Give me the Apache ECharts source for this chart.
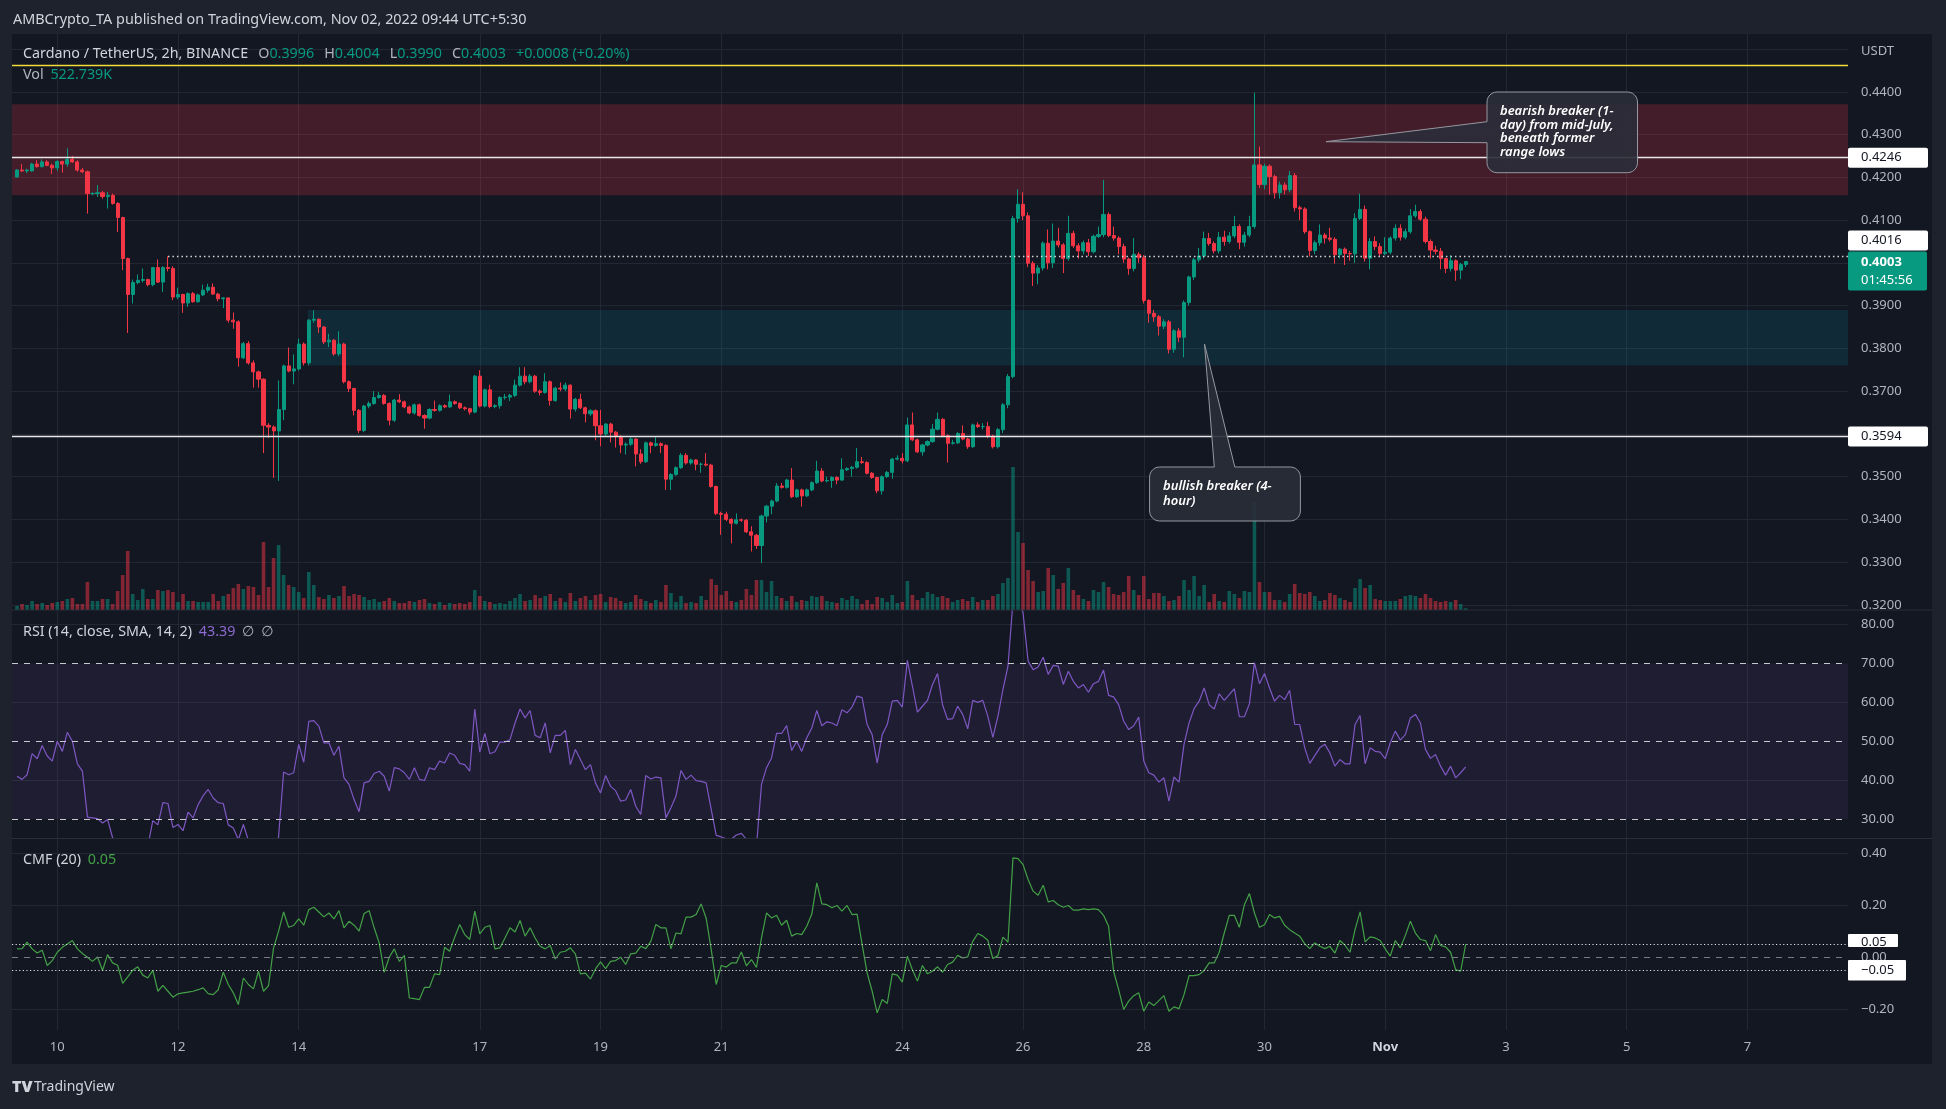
<!DOCTYPE html>
<html><head><meta charset="utf-8">
<script src="https://cdn.jsdelivr.net/npm/echarts@6.0.0/dist/echarts.min.js"></script>
<style>html,body{margin:0;padding:0;background:#1e222d;overflow:hidden}#c{width:1946px;height:1109px}</style>
</head><body><div id="c"></div>
<script>
// ---------- DATA (2h candles, ADA/USDT) ----------
const opens = [
.4201,.4217,.4215,.4215,.4231,.4225,.4236,.4228,.4222,.4237,
.4231,.4242,.4236,.4217,.4213,.4162,.4162,.4164,.4155,.4158,
.4139,.4106,.4010,.3926,.3954,.3959,.3961,.3949,.3989,.3955,
.3989,.3987,.3920,.3926,.3906,.3928,.3909,.3925,.3936,.3943,
.3927,.3916,.3918,.3866,.3862,.3778,.3811,.3766,.3745,.3728,
.3620,.3616,.3607,.3657,.3759,.3747,.3752,.3810,.3766,.3866,
.3868,.3850,.3815,.3819,.3787,.3810,.3722,.3706,.3655,.3608,
.3665,.3671,.3685,.3690,.3671,.3632,.3679,.3675,.3663,.3649,
.3668,.3643,.3637,.3657,.3655,.3666,.3663,.3675,.3671,.3661,
.3659,.3651,.3735,.3665,.3703,.3664,.3666,.3685,.3686,.3690,
.3714,.3735,.3722,.3735,.3700,.3697,.3722,.3678,.3707,.3705,
.3714,.3658,.3681,.3661,.3647,.3654,.3619,.3600,.3623,.3604,
.3594,.3574,.3576,.3588,.3553,.3535,.3579,.3573,.3577,.3573,
.3494,.3505,.3521,.3550,.3532,.3539,.3529,.3529,.3527,.3477,
.3414,.3412,.3400,.3391,.3399,.3398,.3371,.3363,.3339,.3408,
.3431,.3443,.3478,.3475,.3492,.3453,.3469,.3455,.3469,.3486,
.3513,.3490,.3491,.3498,.3492,.3516,.3519,.3522,.3535,.3533,
.3508,.3498,.3467,.3500,.3510,.3541,.3543,.3537,.3621,.3586,
.3558,.3574,.3582,.3611,.3634,.3596,.3578,.3579,.3601,.3588,
.3570,.3621,.3617,.3617,.3595,.3570,.3610,.3668,.3734,.4104,
.4137,.4110,.3999,.3976,.3988,.4046,.4000,.4051,.4042,.4010,
.4069,.4040,.4028,.4047,.4026,.4062,.4066,.4113,.4064,.4058,
.4038,.4009,.3987,.4020,.4012,.3912,.3882,.3874,.3852,.3862,
.3798,.3841,.3826,.3907,.3967,.4007,.4016,.4057,.4045,.4028,
.4060,.4050,.4063,.4085,.4048,.4065,.4085,.4229,.4183,.4226,
.4202,.4164,.4182,.4171,.4204,.4129,.4126,.4073,.4029,.4047,
.4065,.4058,.4055,.4019,.4032,.4022,.4021,.4104,.4125,.4011,
.4050,.4038,.4022,.4025,.4058,.4081,.4060,.4073,.4110,.4120,
.4102,.4050,.4030,.4027,.4010,.3987,.4005,.3983,.3996];
const closes = [
.4217,.4215,.4217,.4231,.4225,.4236,.4228,.4222,.4237,.4231,
.4242,.4236,.4217,.4213,.4162,.4162,.4164,.4155,.4158,.4139,
.4106,.4010,.3926,.3954,.3959,.3961,.3949,.3989,.3955,.3989,
.3987,.3920,.3926,.3906,.3928,.3909,.3925,.3936,.3943,.3927,
.3916,.3918,.3866,.3862,.3778,.3811,.3766,.3745,.3728,.3620,
.3616,.3607,.3657,.3759,.3747,.3752,.3810,.3766,.3866,.3868,
.3850,.3815,.3819,.3787,.3810,.3722,.3706,.3655,.3608,.3665,
.3671,.3685,.3690,.3671,.3632,.3679,.3675,.3663,.3649,.3668,
.3643,.3637,.3657,.3655,.3666,.3663,.3675,.3671,.3661,.3659,
.3651,.3735,.3665,.3703,.3664,.3666,.3685,.3686,.3690,.3714,
.3735,.3722,.3735,.3700,.3697,.3722,.3678,.3707,.3705,.3714,
.3658,.3681,.3661,.3647,.3654,.3619,.3600,.3623,.3604,.3594,
.3574,.3576,.3588,.3553,.3535,.3579,.3573,.3577,.3573,.3494,
.3505,.3521,.3550,.3532,.3539,.3529,.3529,.3527,.3477,.3414,
.3412,.3400,.3391,.3399,.3398,.3371,.3363,.3339,.3408,.3431,
.3443,.3478,.3475,.3492,.3453,.3469,.3455,.3469,.3486,.3513,
.3490,.3491,.3498,.3492,.3516,.3519,.3522,.3535,.3533,.3508,
.3498,.3467,.3500,.3510,.3541,.3543,.3537,.3621,.3586,.3558,
.3574,.3582,.3611,.3634,.3596,.3578,.3579,.3601,.3588,.3570,
.3621,.3617,.3617,.3595,.3570,.3610,.3668,.3734,.4104,.4137,
.4110,.3999,.3976,.3988,.4046,.4000,.4051,.4042,.4010,.4069,
.4040,.4028,.4047,.4026,.4062,.4066,.4113,.4064,.4058,.4038,
.4009,.3987,.4020,.4012,.3912,.3882,.3874,.3852,.3862,.3798,
.3841,.3826,.3907,.3967,.4007,.4016,.4057,.4045,.4028,.4060,
.4050,.4063,.4085,.4048,.4065,.4085,.4229,.4183,.4226,.4202,
.4164,.4182,.4171,.4204,.4129,.4126,.4073,.4029,.4047,.4065,
.4058,.4055,.4019,.4032,.4022,.4021,.4104,.4125,.4011,.4050,
.4038,.4022,.4025,.4058,.4081,.4060,.4073,.4110,.4120,.4102,
.4050,.4030,.4027,.4010,.3987,.4005,.3983,.3996,.4003];
const highs = [
.4219,.4231,.4220,.4234,.4240,.4242,.4240,.4232,.4240,.4239,
.4268,.4250,.4240,.4222,.4216,.4165,.4182,.4168,.4166,.4162,
.4142,.4108,.4012,.3961,.3973,.3987,.3963,.3990,.4008,.3992,
.4015,.3992,.3942,.3928,.3931,.3932,.3928,.3949,.3951,.3952,
.3930,.3920,.3919,.3884,.3866,.3815,.3817,.3772,.3748,.3730,
.3625,.3620,.3725,.3762,.3802,.3786,.3823,.3814,.3868,.3889,
.3870,.3852,.3834,.3822,.3840,.3813,.3725,.3708,.3658,.3668,
.3676,.3700,.3698,.3693,.3674,.3682,.3693,.3678,.3666,.3671,
.3671,.3646,.3660,.3678,.3669,.3669,.3692,.3678,.3674,.3664,
.3661,.3738,.3749,.3706,.3715,.3669,.3688,.3693,.3694,.3727,
.3756,.3756,.3740,.3738,.3704,.3742,.3725,.3710,.3720,.3720,
.3716,.3684,.3694,.3664,.3658,.3657,.3656,.3625,.3626,.3607,
.3597,.3580,.3592,.3590,.3564,.3582,.3582,.3592,.3580,.3576,
.3508,.3524,.3555,.3555,.3542,.3541,.3533,.3555,.3530,.3479,
.3418,.3418,.3403,.3414,.3402,.3401,.3384,.3366,.3411,.3434,
.3446,.3485,.3485,.3495,.3520,.3472,.3472,.3472,.3489,.3537,
.3520,.3500,.3501,.3501,.3543,.3522,.3525,.3567,.3546,.3536,
.3511,.3500,.3503,.3513,.3544,.3550,.3555,.3638,.3650,.3589,
.3577,.3585,.3623,.3650,.3637,.3599,.3586,.3604,.3620,.3591,
.3624,.3627,.3625,.3628,.3598,.3614,.3672,.3740,.4110,.4172,
.4165,.4118,.4004,.3995,.4050,.4078,.4092,.4082,.4046,.4110,
.4075,.4046,.4052,.4056,.4066,.4085,.4194,.4118,.4085,.4062,
.4045,.4012,.4058,.4025,.4018,.3915,.3890,.3878,.3868,.3866,
.3845,.3848,.3912,.3970,.4012,.4035,.4073,.4070,.4050,.4072,
.4075,.4072,.4110,.4090,.4072,.4110,.4398,.4272,.4232,.4230,
.4206,.4190,.4188,.4215,.4210,.4134,.4130,.4076,.4052,.4090,
.4070,.4082,.4060,.4035,.4036,.4028,.4116,.4162,.4134,.4058,
.4062,.4046,.4060,.4062,.4090,.4090,.4080,.4126,.4136,.4125,
.4108,.4055,.4040,.4035,.4012,.4018,.4008,.4000,.4004];
const lows = [
.4199,.4213,.4210,.4213,.4223,.4223,.4226,.4208,.4215,.4211,
.4225,.4234,.4213,.4210,.4115,.4158,.4154,.4150,.4127,.4136,
.4072,.3983,.3836,.3905,.3950,.3954,.3945,.3945,.3953,.3932,
.3980,.3913,.3915,.3883,.3897,.3907,.3907,.3922,.3930,.3925,
.3910,.3894,.3860,.3846,.3757,.3775,.3762,.3708,.3708,.3555,
.3590,.3497,.3490,.3632,.3744,.3716,.3748,.3760,.3760,.3860,
.3836,.3810,.3803,.3783,.3782,.3718,.3698,.3643,.3602,.3604,
.3660,.3668,.3682,.3668,.3620,.3628,.3672,.3660,.3646,.3645,
.3640,.3612,.3634,.3652,.3652,.3660,.3661,.3668,.3658,.3655,
.3645,.3648,.3662,.3662,.3660,.3660,.3659,.3680,.3677,.3686,
.3711,.3716,.3718,.3696,.3690,.3694,.3666,.3675,.3700,.3700,
.3636,.3652,.3658,.3627,.3642,.3585,.3571,.3596,.3580,.3568,
.3555,.3552,.3572,.3524,.3530,.3532,.3555,.3570,.3555,.3469,
.3469,.3502,.3518,.3528,.3528,.3515,.3509,.3524,.3474,.3410,
.3364,.3396,.3344,.3388,.3394,.3368,.3325,.3331,.3298,.3393,
.3412,.3440,.3472,.3472,.3450,.3450,.3430,.3452,.3466,.3483,
.3487,.3487,.3474,.3482,.3490,.3513,.3500,.3519,.3530,.3505,
.3495,.3461,.3458,.3497,.3495,.3538,.3531,.3534,.3583,.3555,
.3549,.3571,.3579,.3608,.3593,.3533,.3575,.3576,.3585,.3565,
.3567,.3614,.3610,.3590,.3566,.3566,.3602,.3660,.3730,.4094,
.4100,.3990,.3946,.3950,.3982,.3985,.3988,.4036,.3976,.4005,
.4035,.4010,.4020,.4016,.4022,.4058,.4060,.4060,.4052,.4020,
.4000,.3972,.3980,.4000,.3905,.3860,.3862,.3830,.3845,.3788,
.3790,.3815,.3779,.3900,.3960,.4001,.4010,.4040,.4022,.4022,
.4040,.4045,.4058,.4032,.4038,.4060,.4080,.4175,.4172,.4160,
.4150,.4150,.4160,.4165,.4120,.4100,.4068,.4015,.4020,.4040,
.4045,.4050,.3998,.4010,.3995,.4005,.4000,.4100,.4003,.3985,
.4030,.4015,.4018,.4020,.4052,.4052,.4055,.4068,.4105,.4098,
.4045,.4010,.4020,.3985,.3976,.3980,.3958,.3962,.3990];
// volume, millions of ADA
const volumes = [
1.2,1.8,1.5,2.7,1.8,2.1,1.5,2.1,2.4,2.7,
3.3,3.6,1.8,1.8,8.4,2.7,2.7,3.3,3.3,1.8,
5.7,10.5,17.7,4.8,3.0,6.3,3.3,3.3,6.0,5.7,
6.0,5.4,2.4,4.8,2.7,2.7,2.4,2.4,2.4,4.8,
2.7,4.2,4.8,6.6,7.8,6.3,7.2,6.9,4.5,20.4,
6.9,15.6,19.5,10.5,7.5,6.9,5.4,3.6,11.4,7.5,
3.9,3.3,4.5,3.6,4.2,7.2,4.2,4.8,4.5,3.9,
3.0,3.3,2.4,2.7,3.6,2.7,2.1,2.1,2.7,2.4,
3.0,3.3,2.1,1.8,2.4,1.5,2.1,1.8,2.1,1.8,
2.4,6.0,4.2,2.7,2.4,1.8,2.1,1.8,2.7,3.6,
4.8,2.7,3.0,4.5,3.6,4.2,4.8,2.7,3.6,2.4,
5.1,2.7,3.6,4.2,3.0,4.5,4.8,2.4,3.9,3.6,
2.7,2.1,2.4,4.5,3.3,2.7,2.1,3.0,2.4,7.5,
5.1,2.4,4.2,2.1,2.4,2.1,4.2,3.0,9.3,7.5,
4.5,5.7,2.7,2.4,3.0,6.3,4.5,9.0,9.0,5.4,
8.7,4.2,3.6,2.7,4.2,2.4,3.0,2.7,4.2,3.9,
4.2,2.7,2.4,2.1,3.6,3.0,4.2,3.3,1.8,3.0,
1.8,3.9,3.6,2.4,4.5,2.1,2.4,8.7,4.5,3.0,
3.6,5.4,4.8,3.9,4.2,3.6,2.4,3.0,3.3,2.7,
3.9,2.4,3.0,3.0,4.2,4.8,8.1,9.6,42.9,23.4,
20.1,12.0,8.7,5.4,5.7,12.6,10.5,6.3,8.1,12.6,
6.0,4.5,3.3,2.7,6.0,5.4,8.4,6.9,4.8,4.5,
5.4,10.2,6.0,4.5,10.2,3.3,5.1,5.1,4.2,2.7,
3.0,4.2,9.0,6.0,10.2,4.2,7.5,2.4,4.8,2.7,
2.4,5.7,4.8,3.6,5.7,5.4,32.4,8.4,5.4,5.4,
3.0,3.0,2.4,4.8,7.8,5.1,4.8,5.4,4.2,2.7,
3.0,5.1,4.5,3.6,3.0,2.4,6.6,9.3,6.6,7.5,
3.3,3.0,2.7,2.7,2.7,3.3,4.2,4.5,4.2,3.6,
4.8,3.6,2.7,2.4,2.7,2.4,3.0,1.8,0.52];
const rsi = [
41.0,40.2,41.4,46.8,45.5,48.9,46.2,44.9,50.0,47.4,
52.3,50.0,44.2,42.3,30.5,30.3,30.1,29.0,29.9,25.2,
22,18,15,20,21,20,23,29.6,28.5,34.2,
34.0,27.8,28.6,27.0,31.8,30.3,33.7,36.0,37.6,35.4,
34.2,34.0,28.5,27.7,24.7,28.6,24.5,22,20,14,
13,12,25.6,42.1,41.4,41.9,49.2,44.6,55.1,55.3,
53.9,49.6,49.6,46.4,48.7,40.6,38.9,35.0,31.9,39.3,
39.7,41.7,42.3,41.0,37.2,43.2,42.9,41.9,40.2,43.2,
40.2,39.9,43.2,42.7,44.9,44.4,47.0,46.4,44.3,44.0,
42.3,58.3,47.2,52.0,46.8,47.3,49.8,49.8,50.4,54.7,
58.3,56.0,57.9,51.5,50.9,54.7,47.0,51.5,51.5,52.8,
44.0,47.9,45.3,42.7,44.0,39.3,36.7,41.2,38.4,37.3,
34.6,34.9,37.6,33.3,31.2,41.2,40.3,40.8,40.6,30.3,
32.9,35.9,42.5,40.2,41.3,39.9,39.7,39.3,32.5,25.8,
25.4,24.9,24.8,25.9,26.3,24.8,20,23,38.9,43.2,
45.7,52.0,52.0,54.0,47.6,50.0,47.4,50.9,53.4,57.9,
54.0,55.0,54.7,54.0,58.1,57.3,58.8,61.6,61.2,54.3,
51.7,44.4,51.7,54.3,60.3,60.5,58.8,70.8,64.2,57.5,
59.0,60.5,64.6,67.4,59.3,55.6,55.8,59.0,56.9,53.2,
60.5,60.0,60.5,56.4,51.0,56.4,63.3,69.3,86,87,
83,70.6,68.4,69.1,71.6,67.2,69.5,69.3,64.6,68.0,
65.4,63.7,64.6,62.6,64.8,65.4,68.3,61.8,61.4,59.4,
55.2,53.0,54.0,56.2,44.9,41.9,41.3,39.5,40.6,34.6,
40.8,39.5,49.2,54.7,58.4,60.3,63.7,59.4,58.3,62.2,
60.5,62.0,63.5,56.3,56.3,59.6,70.2,64.8,67.4,63.7,
60.3,61.8,60.7,63.1,54.3,54.3,48.3,44.3,46.3,48.3,
49.2,47.0,43.6,45.3,44.2,44.2,54.3,56.6,44.2,48.3,
47.4,47.2,45.5,49.6,52.6,50.3,51.7,56.0,56.9,54.7,
47.9,45.6,46.6,43.6,41.3,43.6,40.6,41.9,43.39];
const cmf = [
.032,.033,.058,.032,.016,.027,-.032,-.013,.019,.038,
.051,.064,.032,.014,.000,-.016,.001,-.051,.010,-.022,
-.031,-.101,-.076,-.050,-.037,-.069,-.080,-.051,-.131,-.108,
-.131,-.154,-.141,-.137,-.134,-.131,-.125,-.118,-.140,-.144,
-.125,-.058,-.105,-.137,-.182,-.080,-.105,-.122,-.054,-.131,
-.109,.036,.100,.174,.115,.122,.147,.123,.183,.192,
.174,.155,.170,.147,.179,.113,.138,.123,.100,.168,
.179,.113,.055,-.058,.000,.032,-.016,.007,-.157,-.159,
-.163,-.116,-.116,-.064,-.067,.038,.023,.077,.126,.087,
.068,.177,.090,.115,.122,.032,.036,.074,.113,.097,
.141,.081,.113,.074,.042,.032,.045,-.007,.019,.023,
.036,.013,-.064,-.061,-.084,-.045,-.018,-.044,-.016,-.013,
.000,-.028,.013,.016,.042,.033,.061,.126,.113,.113,
.032,.093,.090,.154,.154,.164,.205,.150,.030,-.105,
-.032,-.038,-.022,-.022,.020,-.033,-.009,-.039,.074,.170,
.151,.161,.123,.142,.081,.091,.087,.119,.166,.286,
.205,.202,.190,.199,.177,.199,.164,.166,.049,-.060,
-.131,-.214,-.163,-.178,-.064,-.069,-.096,.004,-.048,-.092,
-.032,-.064,-.054,-.037,-.058,-.028,-.019,.007,-.003,.001,
.061,.091,.081,.065,-.005,.006,.077,.058,.382,.379,
.356,.299,.254,.238,.277,.213,.218,.202,.192,.199,
.181,.181,.186,.183,.186,.183,.161,.119,-.054,-.125,
-.201,-.169,-.148,-.137,-.208,-.172,-.186,-.167,-.148,-.208,
-.191,-.198,-.144,-.071,-.071,-.067,-.051,-.022,-.022,.019,
.093,.161,.161,.115,.202,.245,.170,.115,.125,.164,
.151,.157,.123,.106,.093,.081,.051,.033,.055,.042,
.033,.042,.016,.064,.046,.019,.106,.174,.059,.078,
.074,.064,.032,.004,.064,.036,.084,.138,.093,.068,
.064,.025,.087,.045,.040,.019,-.048,-.054,.050];
// time-axis ticks (bar index of first bar of the day) and their labels
const dayTickIdx  = [8,32,56,92,116,140,176,200,224,248,272,296,320,344];
const dayTickText = ['10','12','14','17','19','21','24','26','28','30','Nov','3','5','7'];
// price grid levels and drawn levels
const priceTicks = [0.32,0.33,0.34,0.35,0.36,0.37,0.38,0.39,0.40,0.41,0.42,0.43,0.44,0.45];
const bearZone = [0.4371, 0.4158];
const bullZone = [0.3890, 0.3760];
const bullZoneStart = 57.8;
const levelYellow = 0.4463, levelHigh = 0.4246, levelLow = 0.3594, levelRay = 0.4016, rayStart = 30;
const lastPrice = 0.4003, lastTimer = '01:45:56';
const rsiLevels = [30, 50, 70], rsiGrid = [40, 60, 80];
const cmfGrid = [0.4, 0.2, -0.2], cmfBand = [0.05, -0.05];

// ---------- CHART ----------
const FONT = "'Noto Sans','DejaVu Sans',sans-serif";
const UP = '#089981', DOWN = '#f23645', GRIDC = '#232733', AX = '#b2b5be';
const chart = echarts.init(document.getElementById('c'), null, {width:1946, height:1109});
const candleData = closes.map((c,i)=>[i, opens[i], c, lows[i], highs[i]]);
const volData = volumes.map((v,i)=>({value:[i,v], itemStyle:{color: closes[i]>=opens[i] ? 'rgba(8,153,129,0.5)' : 'rgba(242,54,69,0.5)'}}));
const rsiData = rsi.map((v,i)=>[i,v]);
const cmfData = cmf.map((v,i)=>[i,v]);
const vGrid = dayTickIdx.map(v=>({xAxis:v}));
const X0 = {type:'value', min:-1, max:364, interval:1, show:false};
const gl = (extra)=>Object.assign({silent:true, precision:4, symbol:['none','none'], label:{show:false}, animation:false,
  lineStyle:{color:GRIDC, width:1, type:'solid'}}, extra);

const option = {
  backgroundColor:'#131722',
  animation:false,
  grid:[
    {left:12, top:34, width:1836, height:575.2},
    {left:12, top:34, width:1836, height:576},
    {left:12, top:610, width:1836, height:228.5},
    {left:12, top:838.5, width:1836, height:191.5}
  ],
  xAxis:[
    Object.assign({}, X0, {gridIndex:0}),
    Object.assign({}, X0, {gridIndex:1}),
    Object.assign({}, X0, {gridIndex:2}),
    {type:'value', gridIndex:3, min:-1, max:364, interval:1,
     axisLine:{show:false}, axisTick:{show:false}, splitLine:{show:false},
     axisLabel:{color:AX, fontSize:13, fontFamily:FONT, margin:11,
       rich:{b:{color:'#d1d4dc', fontWeight:'bold', fontSize:13, fontFamily:FONT}},
       formatter:v=>{const r=Math.round(v); if(Math.abs(v-r)>1e-6) return ''; const k=dayTickIdx.indexOf(r); if(k<0) return ''; return dayTickText[k]==='Nov' ? '{b|Nov}' : dayTickText[k];}}}
  ],
  yAxis:[
    {type:'value', gridIndex:0, position:'right', min:0.319, max:0.45352, interval:0.001,
     axisLine:{show:false}, axisTick:{show:false}, splitLine:{show:false},
     axisLabel:{color:AX, fontSize:13, fontFamily:FONT, margin:13,
       formatter:v=>{const k=Math.round(v*100); return (Math.abs(v*100-k)<1e-6 && k>=32 && k<=44) ? (k/100).toFixed(4) : '';}}},
    {type:'value', gridIndex:1, min:0, max:172.8, show:false},
    {type:'value', gridIndex:2, position:'right', min:25, max:83.74, interval:5,
     axisLine:{show:false}, axisTick:{show:false}, splitLine:{show:false},
     axisLabel:{color:AX, fontSize:13, fontFamily:FONT, margin:13,
       formatter:v=>{const k=Math.round(v/10); return (Math.abs(v/10-k)<1e-6 && k>=3 && k<=8) ? (k*10).toFixed(2) : '';}}},
    {type:'value', gridIndex:3, position:'right', min:-0.28, max:0.4565, interval:0.04,
     axisLine:{show:false}, axisTick:{show:false}, splitLine:{show:false},
     axisLabel:{color:AX, fontSize:13, fontFamily:FONT, margin:13,
       formatter:v=>{const k=Math.round(v*5); if(Math.abs(v*5-k)>1e-6 || k<-1 || k>2) return ''; const val=k/5; if(k===0) return '0.00'; return val<0 ? '\u2212'+Math.abs(val).toFixed(2) : val.toFixed(2);}}}
  ],
  series:[
    {type:'line', xAxisIndex:0, yAxisIndex:0, data:[], silent:true,
     markLine: gl({z:0, data:[...priceTicks.map(v=>({yAxis:v})), ...vGrid]}),
     markArea:{silent:true, z:1, data:[
       [{xAxis:-1, yAxis:bearZone[0], itemStyle:{color:'rgba(242,54,69,0.22)'}}, {xAxis:364, yAxis:bearZone[1]}],
       [{xAxis:bullZoneStart, yAxis:bullZone[0], itemStyle:{color:'rgba(0,188,212,0.12)'}}, {xAxis:364, yAxis:bullZone[1]}]
     ]}},
    {type:'bar', xAxisIndex:1, yAxisIndex:1, barWidth:3.6, data:volData, silent:true},
    {type:'candlestick', xAxisIndex:0, yAxisIndex:0, barWidth:3.6, encode:{x:0, y:[1,2,3,4]}, data:candleData, silent:true,
     itemStyle:{color:UP, color0:DOWN, borderColor:UP, borderColor0:DOWN, borderWidth:1},
     markLine:{silent:true, precision:4, symbol:['none','none'], label:{show:false}, animation:false, data:[
       {yAxis:levelYellow, lineStyle:{color:'#f2dc3a', width:1.3, type:'solid'}},
       {yAxis:levelHigh, lineStyle:{color:'#e8e8e8', width:1.3, type:'solid'}},
       {yAxis:levelLow, lineStyle:{color:'#e8e8e8', width:1.3, type:'solid'}},
       [{coord:[rayStart, levelRay], lineStyle:{color:'#d8d8d8', width:1.3, type:[1.5,3]}}, {coord:[364, levelRay]}]
     ]}},
    {type:'line', xAxisIndex:2, yAxisIndex:2, data:[], silent:true,
     markLine: gl({z:0, data:[...rsiGrid.map(v=>({yAxis:v})), ...vGrid]}),
     markArea:{silent:true, z:1, data:[[{xAxis:-1, yAxis:rsiLevels[0], itemStyle:{color:'rgba(126,87,194,0.10)'}}, {xAxis:364, yAxis:rsiLevels[2]}]]}},
    {type:'line', xAxisIndex:2, yAxisIndex:2, data:rsiData, symbol:'none', silent:true,
     lineStyle:{color:'#7e57c2', width:1.2},
     markLine:{silent:true, precision:4, symbol:['none','none'], label:{show:false}, animation:false,
       lineStyle:{color:'#c8c9cc', width:1, type:[6,6]}, data:rsiLevels.map(v=>({yAxis:v}))}},
    {type:'line', xAxisIndex:3, yAxisIndex:3, data:[], silent:true,
     markLine: gl({z:0, data:[...cmfGrid.map(v=>({yAxis:v})), ...vGrid]})},
    {type:'line', xAxisIndex:3, yAxisIndex:3, data:cmfData, symbol:'none', silent:true, clip:false,
     lineStyle:{color:'#43a047', width:1.2},
     markLine:{silent:true, precision:4, symbol:['none','none'], label:{show:false}, animation:false, data:[
       {yAxis:0, lineStyle:{color:'#787b86', width:1, type:[6,6]}},
       {yAxis:cmfBand[0], lineStyle:{color:'#e0e0e0', width:1, type:[1.2,2.4]}},
       {yAxis:cmfBand[1], lineStyle:{color:'#e0e0e0', width:1, type:[1.2,2.4]}}
     ]}}
  ]
};
chart.setOption(option);

// ---------- decorations (text, frame, price tags, callouts) ----------
const py = v => chart.convertToPixel({yAxisIndex:0}, v);
const cy = v => chart.convertToPixel({yAxisIndex:3}, v);
const FR = '#1e222d';
const g = [];
const rect = (x,y,w,h,fill,z,r)=>g.push({type:'rect', z:z||50, shape:{x,y,width:w,height:h,r:r||0}, style:{fill}, silent:true});
const txt = (x,y,text,opt)=>g.push({type:'text', z:(opt&&opt.z)||60, x, y, silent:true,
  style:Object.assign({text, fill:'#d1d4dc', fontSize:13, fontFamily:FONT, verticalAlign:'middle', align:'left'}, opt||{})});
// frame
rect(0,0,1946,34,FR,40); rect(0,1064,1946,45,FR,40); rect(0,0,12,1109,FR,40); rect(1932,0,14,1109,FR,40);
g.push({type:'line', z:45, silent:true, shape:{x1:12,y1:610,x2:1932,y2:610}, style:{stroke:'#2a2e39', lineWidth:1}});
g.push({type:'line', z:45, silent:true, shape:{x1:12,y1:838.5,x2:1932,y2:838.5}, style:{stroke:'#2a2e39', lineWidth:1}});
// header
txt(13, 20, 'AMBCrypto_TA published on TradingView.com, Nov 02, 2022 09:44 UTC+5:30', {fontSize:14.4, fill:'#d1d4dc'});
const FS = 14.3;
const R = {t:{fill:'#d1d4dc', fontSize:FS, fontFamily:FONT}, l:{fill:'#b2b5be', fontSize:FS, fontFamily:FONT}, v:{fill:UP, fontSize:FS, fontFamily:FONT},
           p:{fill:'#8e6bd1', fontSize:FS, fontFamily:FONT}, gr:{fill:'#43a047', fontSize:FS, fontFamily:FONT}};
txt(23, 54, '{t|Cardano / TetherUS, 2h, BINANCE}   {l|O}{v|0.3996}   {l|H}{v|0.4004}   {l|L}{v|0.3990}   {l|C}{v|0.4003}   {v|+0.0008 (+0.20%)}', {rich:R});
txt(23, 75, '{l|Vol}  {v|522.739K}', {rich:R});
txt(23, 632, '{t|RSI (14, close, SMA, 14, 2)}  {p|43.39}  {l|\u2205}  {l|\u2205}', {rich:R});
txt(23, 860, '{t|CMF (20)}  {gr|0.05}', {rich:R});
txt(1861, 51, 'USDT', {fill:AX, fontSize:13});
// price tags
const tag = (y,h,w,text,bg,fg,bold)=>{ rect(1848,y,w,h,bg,70,2); txt(1861, y+h/2, text, {fill:fg, fontWeight:bold?'bold':'normal', z:71}); };
const yH = py(levelHigh), yL = py(levelLow), yP = py(lastPrice);
tag(yH-10, 20, 80, levelHigh.toFixed(4), '#ffffff', '#131722');
tag(yL-10, 20, 80, levelLow.toFixed(4), '#ffffff', '#131722');
rect(1848, yP-10, 79, 39, UP, 70, 2);
txt(1861, yP+0.5, lastPrice.toFixed(4), {fill:'#ffffff', fontWeight:'bold', z:71});
txt(1861, yP+18.5, lastTimer, {fill:'#ffffff', z:71});
tag(yP-31, 20, 80, levelRay.toFixed(4), '#ffffff', '#131722');
const c05 = cy(cmfBand[0]), cm05 = cy(cmfBand[1]);
rect(1848, c05-10.3, 50, 13, '#ffffff', 70, 1); txt(1861, c05-2, '0.05', {fill:'#131722', z:71});
rect(1848, cm05-10.3, 58, 20.7, '#ffffff', 70, 1); txt(1861, cm05, '\u22120.05', {fill:'#131722', z:71});
// callouts (rounded box with pointer, as polygon)
function arc(cx, cyy, r, a0, a1, out){ for(let k=0;k<=6;k++){ const a=(a0+(a1-a0)*k/6)*Math.PI/180; out.push([cx+r*Math.cos(a), cyy+r*Math.sin(a)]); } }
function callout(L,T,Rr,B,r,topPtr,leftPtr){
  const p=[]; arc(L+r,T+r,r,180,270,p);
  if(topPtr) p.push(...topPtr);
  arc(Rr-r,T+r,r,270,360,p); arc(Rr-r,B-r,r,0,90,p); arc(L+r,B-r,r,90,180,p);
  if(leftPtr) p.push(...leftPtr);
  return p;
}
const CS = {fill:'rgba(42,46,57,0.9)', stroke:'#9598a1', lineWidth:1};
g.push({type:'polygon', z:55, silent:true, shape:{points:callout(1487,92,1637.5,172.7,10,null,[[1487,142.7],[1326,141.7],[1487,121.7]])}, style:CS});
g.push({type:'polygon', z:55, silent:true, shape:{points:callout(1149.6,467,1300.4,521,10,[[1214.3,467],[1204.5,344],[1234.8,467]],null)}, style:CS});
const CT = {fill:'#ffffff', fontStyle:'italic', fontWeight:600, fontSize:13, z:56};
txt(1500, 111.3, 'bearish breaker (1-', CT);
txt(1500, 124.8, 'day) from mid-July,', CT);
txt(1500, 138.6, 'beneath former', CT);
txt(1500, 152.4, 'range lows', CT);
txt(1163, 486.7, 'bullish breaker (4-', CT);
txt(1163, 500.9, 'hour)', CT);
// logo
txt(12, 1087, 'TV', {fill:'#d1d4dc', fontSize:16, fontWeight:900, z:60});
txt(34, 1087, 'TradingView', {fill:'#d1d4dc', fontSize:14, z:60});
chart.setOption({graphic:g});
</script>
</body></html>
